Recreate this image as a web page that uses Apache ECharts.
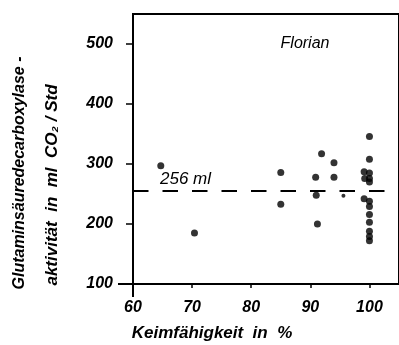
<!DOCTYPE html>
<html>
<head>
<meta charset="utf-8">
<script src="https://cdn.jsdelivr.net/npm/echarts@6/dist/echarts.min.js"></script>
<style>
  html, body { margin: 0; padding: 0; background: #ffffff; }
  #chart { width: 399px; height: 345px; }
</style>
</head>
<body>
<div id="chart"></div>
<script>
// Keimfähigkeit (%) vs. Glutaminsäuredecarboxylase-Aktivität (ml CO2 / Std), Sorte Florian
const keimfaehigkeit = [64.7, 70.4, 85.0, 85.0, 90.9, 91.0, 91.2, 91.9, 94.0, 94.0,
  100, 100, 99.1, 100, 99.2, 100, 100, 99.1, 100, 100, 100, 100, 100, 100, 100];
const aktivitaet = [297, 185, 286, 233, 278, 248, 200, 317, 302, 278,
  346, 308, 287, 285, 276, 276, 270, 242, 238, 229, 216, 203, 188, 179, 172];
// one small dot
const smallX = [95.6];
const smallY = [247];
const mittelwert = 256;
const xTicks = [60, 70, 80, 90, 100];
const yTicks = [100, 200, 300, 400, 500];

const FONT = 'Liberation Sans';
const chart = echarts.init(document.getElementById('chart'));

const labelStyle = {
  color: '#000',
  fontFamily: FONT,
  fontStyle: 'italic',
  fontWeight: 'bold',
  fontSize: 16
};

const option = {
  backgroundColor: '#ffffff',
  animation: false,
  grid: {
    left: 133,
    right: -3,
    top: 14,
    bottom: 61,
    show: true,
    borderColor: '#000',
    borderWidth: 2
  },
  xAxis: {
    type: 'value',
    min: 60,
    max: 105,
    interval: 10,
    axisLine: { lineStyle: { color: '#000', width: 2 } },
    axisTick: { show: true, length: 4, customValues: xTicks, lineStyle: { color: '#000', width: 1.5 } },
    axisLabel: Object.assign({ margin: 16, customValues: xTicks }, labelStyle),
    splitLine: { show: false }
  },
  yAxis: {
    type: 'value',
    min: 100,
    max: 550,
    interval: 100,
    axisLine: { show: true, lineStyle: { color: '#000', width: 2 } },
    axisTick: { show: true, length: 7, customValues: yTicks, lineStyle: { color: '#000', width: 1.5 } },
    axisLabel: Object.assign({ margin: 20, customValues: yTicks }, labelStyle),
    splitLine: { show: false }
  },
  graphic: [
    {
      id: 'florian',
      type: 'text',
      x: 305, y: 44,
      style: { text: 'Florian', fill: '#000', font: 'italic 16px "Liberation Sans"', align: 'center', verticalAlign: 'middle' }
    },
    {
      id: 'ytitle1',
      type: 'text',
      x: 20, y: 173, rotation: Math.PI / 2,
      style: {
        text: 'Glutaminsäuredecarboxylase -', fill: '#000',
        font: 'italic bold 16px "Liberation Sans"', align: 'center', verticalAlign: 'middle'
      }
    },
    {
      id: 'ytitle2',
      type: 'text',
      x: 52, y: 185, rotation: Math.PI / 2,
      style: {
        text: 'aktivität  in  ml  CO₂ / Std', fill: '#000',
        font: 'italic bold 17px "Liberation Sans"', align: 'center', verticalAlign: 'middle'
      }
    },
    {
      id: 'xtitle',
      type: 'text',
      x: 212, y: 333,
      style: {
        text: 'Keimfähigkeit  in  %', fill: '#000',
        font: 'italic bold 17px "Liberation Sans"', align: 'center', verticalAlign: 'middle'
      }
    }
  ],
  series: [
    {
      name: 'Florian',
      type: 'scatter',
      symbol: 'circle',
      symbolSize: 7,
      itemStyle: { color: '#000' },
      data: keimfaehigkeit.map((x, i) => [x, aktivitaet[i]]),
      markLine: {
        silent: true,
        symbol: 'none',
        lineStyle: { color: '#000', width: 2, type: [15.5, 14] },
        label: {
          show: true,
          position: 'insideStartTop',
          distance: [27, 3],
          formatter: mittelwert + ' ml',
          color: '#000',
          fontFamily: FONT,
          fontStyle: 'italic',
          fontSize: 17
        },
        data: [{ yAxis: mittelwert }]
      }
    },
    {
      type: 'scatter',
      symbol: 'circle',
      symbolSize: 4,
      itemStyle: { color: '#000' },
      data: smallX.map((x, i) => [x, smallY[i]])
    }
  ]
};

chart.setOption(option);

// axis overhang where the two axes cross
const origin = chart.convertToPixel({ gridIndex: 0 }, [60, 100]);
chart.setOption({
  graphic: [
    {
      id: 'overhangX',
      type: 'line',
      shape: { x1: origin[0] - 15, y1: origin[1], x2: origin[0], y2: origin[1] },
      style: { stroke: '#000', lineWidth: 2 }
    },
    {
      id: 'overhangY',
      type: 'line',
      shape: { x1: origin[0], y1: origin[1], x2: origin[0], y2: origin[1] + 13 },
      style: { stroke: '#000', lineWidth: 2 }
    }
  ]
});
</script>
</body>
</html>
